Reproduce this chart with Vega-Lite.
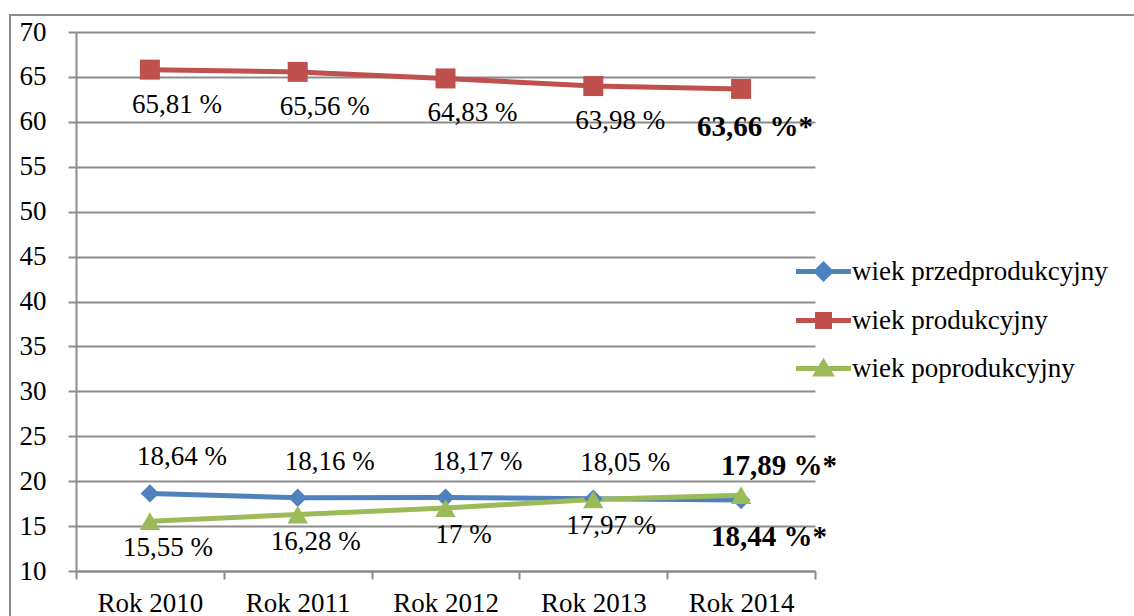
{
  "$schema": "https://vega.github.io/schema/vega-lite/v6.json",
  "width": 1130,
  "height": 605,
  "autosize": {"type": "none"},
  "padding": {"left": 10, "top": 15, "right": 0, "bottom": 0},
  "background": "white",
  "config": {
    "font": "Liberation Serif",
    "view": {"stroke": "#8c8c8c", "strokeWidth": 2},
    "axis": {
      "labelFont": "Liberation Serif",
      "labelFontSize": 27,
      "labelColor": "black",
      "domainColor": "#8c8c8c",
      "tickColor": "#8c8c8c",
      "gridColor": "#8c8c8c",
      "domainWidth": 2,
      "tickWidth": 2,
      "gridWidth": 2,
      "title": null
    }
  },
  "data": {
    "values": [
      {"rok": "Rok 2010", "seria": "wiek przedprodukcyjny", "wartosc": 18.64, "etykieta": "18,64 %"},
      {"rok": "Rok 2011", "seria": "wiek przedprodukcyjny", "wartosc": 18.16, "etykieta": "18,16 %"},
      {"rok": "Rok 2012", "seria": "wiek przedprodukcyjny", "wartosc": 18.17, "etykieta": "18,17 %"},
      {"rok": "Rok 2013", "seria": "wiek przedprodukcyjny", "wartosc": 18.05, "etykieta": "18,05 %"},
      {"rok": "Rok 2014", "seria": "wiek przedprodukcyjny", "wartosc": 17.89, "etykieta": "17,89 %*"},
      {"rok": "Rok 2010", "seria": "wiek produkcyjny", "wartosc": 65.81, "etykieta": "65,81 %"},
      {"rok": "Rok 2011", "seria": "wiek produkcyjny", "wartosc": 65.56, "etykieta": "65,56 %"},
      {"rok": "Rok 2012", "seria": "wiek produkcyjny", "wartosc": 64.83, "etykieta": "64,83 %"},
      {"rok": "Rok 2013", "seria": "wiek produkcyjny", "wartosc": 63.98, "etykieta": "63,98 %"},
      {"rok": "Rok 2014", "seria": "wiek produkcyjny", "wartosc": 63.66, "etykieta": "63,66 %*"},
      {"rok": "Rok 2010", "seria": "wiek poprodukcyjny", "wartosc": 15.55, "etykieta": "15,55 %"},
      {"rok": "Rok 2011", "seria": "wiek poprodukcyjny", "wartosc": 16.28, "etykieta": "16,28 %"},
      {"rok": "Rok 2012", "seria": "wiek poprodukcyjny", "wartosc": 17, "etykieta": "17 %"},
      {"rok": "Rok 2013", "seria": "wiek poprodukcyjny", "wartosc": 17.97, "etykieta": "17,97 %"},
      {"rok": "Rok 2014", "seria": "wiek poprodukcyjny", "wartosc": 18.44, "etykieta": "18,44 %*"}
    ]
  },
  "encoding": {
    "x": {
      "field": "rok",
      "type": "nominal",
      "sort": null,
      "scale": {"type": "band", "range": [66, 805], "paddingInner": 0, "paddingOuter": 0},
      "axis": {"title": null, "labelAngle": 0, "tickBand": "extent", "tickSize": 8, "labelPadding": 11, "offset": -49, "grid": false}
    },
    "y": {
      "field": "wartosc",
      "type": "quantitative",
      "scale": {"domain": [10, 70], "range": [556, 17], "nice": false, "zero": false},
      "axis": {"title": null, "values": [10, 15, 20, 25, 30, 35, 40, 45, 50, 55, 60, 65, 70], "tickSize": 8, "labelPadding": 22, "offset": -66, "grid": true}
    }
  },
  "layer": [
    {
      "mark": {"type": "line", "strokeWidth": 5},
      "encoding": {
        "color": {
          "field": "seria",
          "type": "nominal",
          "scale": {"domain": ["wiek przedprodukcyjny", "wiek produkcyjny", "wiek poprodukcyjny"], "range": ["#4F81BD", "#C0504D", "#9BBB59"]},
          "legend": {
            "orient": "none",
            "legendX": 800,
            "legendY": 243,
            "title": null,
            "labelFont": "Liberation Serif",
            "labelFontSize": 27,
            "labelColor": "black",
            "labelLimit": 500,
            "symbolSize": 400,
            "labelOffset": 15,
            "rowPadding": 15,
            "padding": 0,
            "symbolStrokeWidth": 5,
            "encoding": {
              "symbols": {
                "shape": {
                  "condition": [
                    {"test": "datum.value === 'wiek przedprodukcyjny'", "value": "M-2.75,0H2.75M-0.7,0L0,-0.7L0.7,0L0,0.7Z"},
                    {"test": "datum.value === 'wiek produkcyjny'", "value": "M-2.75,0H2.75M-0.6,-0.6H0.6V0.6H-0.6Z"}
                  ],
                  "value": "M-2.75,0H2.75M0,-0.6L0.7,0.55H-0.7Z"
                },
                "fill": {
                  "condition": [
                    {"test": "datum.value === 'wiek przedprodukcyjny'", "value": "#4F81BD"},
                    {"test": "datum.value === 'wiek produkcyjny'", "value": "#C0504D"}
                  ],
                  "value": "#9BBB59"
                },
                "stroke": {
                  "condition": [
                    {"test": "datum.value === 'wiek przedprodukcyjny'", "value": "#4F81BD"},
                    {"test": "datum.value === 'wiek produkcyjny'", "value": "#C0504D"}
                  ],
                  "value": "#9BBB59"
                },
                "strokeWidth": {"value": 5},
                "opacity": {"value": 1}
              }
            }
          }
        }
      }
    },
    {
      "transform": [{"filter": "datum.seria === 'wiek przedprodukcyjny'"}],
      "mark": {"type": "point", "filled": true, "opacity": 1, "size": 340, "shape": "diamond"},
      "encoding": {"color": {"field": "seria", "type": "nominal"}}
    },
    {
      "transform": [{"filter": "datum.seria === 'wiek produkcyjny'"}],
      "mark": {"type": "point", "filled": true, "opacity": 1, "size": 400, "shape": "square"},
      "encoding": {"color": {"field": "seria", "type": "nominal"}}
    },
    {
      "transform": [{"filter": "datum.seria === 'wiek poprodukcyjny'"}],
      "mark": {"type": "point", "filled": true, "opacity": 1, "size": 420, "shape": "triangle-up"},
      "encoding": {"color": {"field": "seria", "type": "nominal"}}
    },
    {
      "transform": [{"filter": "datum.seria === 'wiek przedprodukcyjny' && datum.rok !== 'Rok 2014'"}],
      "mark": {"type": "text", "dx": 32, "dy": -36, "font": "Liberation Serif", "fontSize": 27, "color": "black"},
      "encoding": {"text": {"field": "etykieta"}}
    },
    {
      "transform": [{"filter": "datum.seria === 'wiek przedprodukcyjny' && datum.rok === 'Rok 2014'"}],
      "mark": {"type": "text", "dx": 38, "dy": -34, "font": "Liberation Serif", "fontSize": 29, "fontWeight": "bold", "color": "black"},
      "encoding": {"text": {"field": "etykieta"}}
    },
    {
      "transform": [{"filter": "datum.seria === 'wiek produkcyjny' && datum.rok !== 'Rok 2014'"}],
      "mark": {"type": "text", "dx": 27, "dy": 35, "font": "Liberation Serif", "fontSize": 27, "color": "black"},
      "encoding": {"text": {"field": "etykieta"}}
    },
    {
      "transform": [{"filter": "datum.seria === 'wiek produkcyjny' && datum.rok === 'Rok 2014'"}],
      "mark": {"type": "text", "dx": 14, "dy": 38, "font": "Liberation Serif", "fontSize": 29, "fontWeight": "bold", "color": "black"},
      "encoding": {"text": {"field": "etykieta"}}
    },
    {
      "transform": [{"filter": "datum.seria === 'wiek poprodukcyjny' && datum.rok !== 'Rok 2014'"}],
      "mark": {"type": "text", "dx": 18, "dy": 27, "font": "Liberation Serif", "fontSize": 27, "color": "black"},
      "encoding": {"text": {"field": "etykieta"}}
    },
    {
      "transform": [{"filter": "datum.seria === 'wiek poprodukcyjny' && datum.rok === 'Rok 2014'"}],
      "mark": {"type": "text", "dx": 28, "dy": 42, "font": "Liberation Serif", "fontSize": 29, "fontWeight": "bold", "color": "black"},
      "encoding": {"text": {"field": "etykieta"}}
    }
  ]
}
